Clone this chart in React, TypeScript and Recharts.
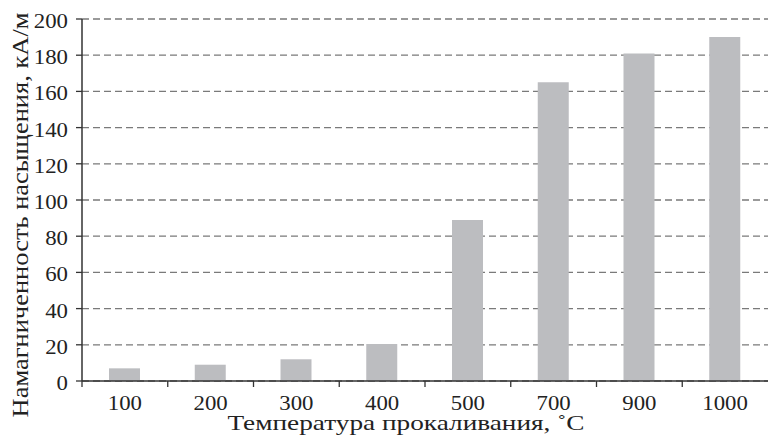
import React from 'react';
import { BarChart, Bar, XAxis, YAxis, CartesianGrid } from 'recharts';

const categories = ['100', '200', '300', '400', '500', '700', '900', '1000'];
const magnetization = [7, 9, 12, 20.5, 89, 165, 181, 190];
const yTicks = [0, 20, 40, 60, 80, 100, 120, 140, 160, 180, 200];

const data = categories.map((c, i) => ({ t: c, m: magnetization[i] }));

const FONT = 'Liberation Serif, Times New Roman, serif';
const DIGIT_W = 11.4;

const XTick = (props: any) => {
  const { x, y, payload } = props;
  const off = payload && payload.offset ? payload.offset : 0;
  const s = String(payload.value);
  return (
    <g>
      <line x1={x - off} y1={y} x2={x - off} y2={y + 6} stroke="#333" strokeWidth={1.3} />
      <text
        x={x}
        y={y + 29}
        textAnchor="middle"
        textLength={s.length * DIGIT_W}
        lengthAdjust="spacingAndGlyphs"
        style={{ fontFamily: FONT, fontSize: 20, fill: '#222' }}
      >
        {s}
      </text>
    </g>
  );
};

const YTick = (props: any) => {
  const { x, y, payload } = props;
  const s = String(payload.value);
  return (
    <text
      x={x}
      y={y + 9}
      textAnchor="end"
      textLength={s.length * DIGIT_W}
      lengthAdjust="spacingAndGlyphs"
      style={{ fontFamily: FONT, fontSize: 20, fill: '#222' }}
    >
      {s}
    </text>
  );
};

const YLabel = () => {
  const cx = 20;
  const cy = 215;
  return (
    <text
      x={cx}
      y={cy}
      transform={`rotate(-90 ${cx} ${cy})`}
      textAnchor="middle"
      dy="0.33em"
      textLength={405}
      lengthAdjust="spacingAndGlyphs"
      style={{ fontFamily: FONT, fontSize: 23, fill: '#222' }}
    >
      Намагниченность насыщения, кА/м
    </text>
  );
};

const XLabel = () => (
  <text
    x={406}
    y={430}
    textAnchor="middle"
    textLength={357}
    lengthAdjust="spacingAndGlyphs"
    style={{ fontFamily: FONT, fontSize: 22, fill: '#222' }}
  >
    Температура прокаливания, ˚С
  </text>
);

export default function App() {
  return (
    <div style={{ position: 'absolute', left: 0, top: 0, background: '#fff', fontFamily: FONT }}>
      <BarChart
        width={769}
        height={437}
        data={data}
        margin={{ top: 19, right: 1, bottom: 0, left: 0 }}
      >
        <CartesianGrid vertical={false} stroke="#7a7a7a" strokeDasharray="7 4" strokeWidth={1.3} />
        <XAxis
          dataKey="t"
          tickLine={false}
          tickSize={0}
          tickMargin={0}
          height={56}
          axisLine={{ stroke: '#333', strokeWidth: 1.5 }}
          tick={<XTick />}
          interval={0}
          label={<XLabel />}
        />
        <YAxis
          width={82}
          domain={[0, 200]}
          ticks={yTicks}
          interval={0}
          tickSize={6}
          tickMargin={8}
          tickLine={{ stroke: '#333', strokeWidth: 1.3 }}
          axisLine={{ stroke: '#333', strokeWidth: 1.5 }}
          tick={<YTick />}
          label={<YLabel />}
        />
        <Bar dataKey="m" fill="#bcbdc0" barSize={31} isAnimationActive={false} />
      </BarChart>
    </div>
  );
}
